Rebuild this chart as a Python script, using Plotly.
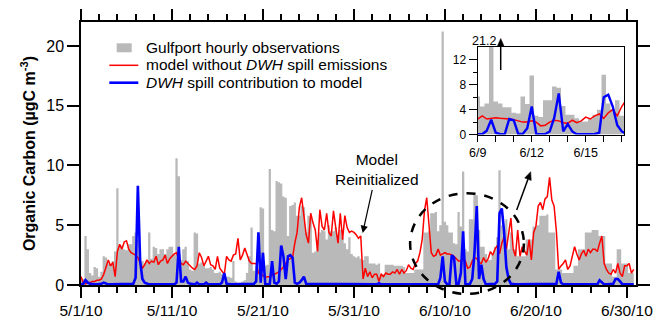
import pandas as pd
import plotly.graph_objects as go

# 6-hourly samples starting 2010-05-01 00:00 (61 days x 4)
start = "2010-05-01"
n_days = 61

obs = [  # Gulfport observations (ugC m-3), one row per day
    0.4, 0.5, 4.1, 3.0,
    1.0, 0.8, 1.5, 1.4,
    0.7, 1.1, 2.4, 2.3,
    1.8, 1.7, 2.0, 2.8,
    8.1, 3.2, 3.3, 3.0,
    2.9, 3.4, 3.4, 4.1,
    4.4, 3.8, 2.1, 2.0,
    1.8, 2.0, 4.4, 2.2,
    3.2, 3.1, 2.6, 3.0,
    3.0, 2.6, 3.0, 3.2,
    3.2, 2.5, 10.6, 9.1,
    2.1, 3.0, 3.2, 2.0,
    1.3, 1.2, 4.4, 4.3,
    1.8, 1.9, 1.6, 1.4,
    1.4, 1.5, 1.3, 1.0,
    1.0, 1.1, 0.9, 0.8,
    0.7, 0.7, 0.6, 2.0,
    0.3, 0.2, 0.2, 0.3,
    0.4, 1.0, 2.4, 4.8,
    1.2, 1.6, 1.5, 6.5,
    6.4, 1.6, 1.7, 9.7,
    4.6, 4.5, 8.7, 8.6,
    8.5, 7.4, 7.3, 4.1,
    6.6, 6.7, 6.9, 5.8,
    5.8, 6.6, 6.5, 4.4,
    5.8, 5.7, 2.7, 2.8,
    3.8, 4.4, 4.6, 4.5,
    3.8, 5.0, 4.5, 4.5,
    4.8, 4.2, 4.6, 4.0,
    3.5, 3.0, 4.0, 2.6,
    2.4, 2.3, 2.4, 2.2,
    2.1, 2.4, 2.4, 1.8,
    1.8, 1.8, 1.7, 1.8,
    0.9, 0.9, 1.7, 1.7,
    1.7, 1.7, 1.6, 1.6,
    1.6, 1.6, 1.5, 1.0,
    1.0, 1.0, 1.0, 1.3,
    1.3, 1.3, 1.3, 4.4,
    4.4, 4.5, 6.0, 6.0,
    6.1, 4.5, 5.0, 21.2,
    5.3, 5.0, 4.4, 4.4,
    3.5, 3.4, 6.1, 4.9,
    9.5, 3.0, 2.8, 5.5,
    5.5, 7.7, 7.5, 4.6,
    3.2, 3.2, 2.6, 2.1,
    2.1, 2.5, 3.2, 4.0,
    9.6, 5.0, 4.1, 5.5,
    3.0, 4.4, 3.0, 3.0,
    2.4, 2.4, 2.4, 2.4,
    3.8, 3.8, 3.8, 4.9,
    4.9, 5.0, 5.8, 5.8,
    5.8, 5.9, 4.4, 4.4,
    4.4, 1.3, 1.3, 1.3,
    1.0, 1.0, 1.0, 1.0,
    1.0, 1.6, 1.6, 3.0,
    3.0, 3.0, 4.4, 4.4,
    4.4, 4.6, 4.6, 4.6,
    4.1, 4.1, 4.1, 1.8,
    1.8, 1.8, 0.7, 0.7,
    3.0, 3.0, 1.8, 1.8,
    1.8, 1.0, 1.0, 1.0,
]

model_base = [  # model without DWH spill emissions
    0.7, 0.2, 0.1, 0.2,
    0.2, 0.3, 0.3, 0.4,
    0.4, 0.5, 0.9, 1.6,
    2.1, 1.6, 1.9, 0.7,
    2.8, 3.4, 3.0, 3.6,
    3.7, 3.0, 2.7, 2.6,
    2.5, 2.3, 1.8, 1.4,
    1.7, 2.1, 1.8, 2.0,
    1.9, 2.4, 1.7, 2.0,
    2.1, 2.5, 1.8, 2.2,
    2.4, 2.6, 2.7, 2.1,
    1.8, 1.7, 2.0, 1.8,
    1.6, 1.4, 1.3, 1.6,
    2.7, 2.3, 1.6, 2.0,
    2.4, 1.7, 1.6, 1.3,
    2.4, 1.4, 1.1, 0.9,
    2.4, 2.1, 2.0, 2.5,
    2.6, 3.9, 2.1, 2.5,
    3.1, 2.5, 2.0, 1.8,
    1.8, 1.8, 1.0, 0.9,
    0.8, 0.6, 0.7, 0.7,
    0.8, 0.9, 1.0, 1.1,
    1.3, 1.5, 1.8, 2.1,
    2.2, 2.3, 3.5, 4.4,
    6.5, 7.3, 5.8, 4.2,
    3.5, 6.0, 5.2, 4.6,
    2.8, 6.3, 4.9, 4.6,
    6.0, 4.4, 4.1, 6.2,
    4.8, 3.5, 6.0, 3.8,
    5.8, 4.8, 4.4, 4.5,
    4.4, 4.2, 3.9, 4.1,
    0.5, 1.4, 0.7, 1.1,
    0.6, 0.9, 0.9, 0.3,
    0.9, 0.7, 1.0, 0.9,
    0.9, 1.1, 1.0, 1.3,
    0.9, 1.3, 1.0, 1.2,
    1.7, 1.4, 1.3, 1.8,
    2.0, 2.7, 3.8, 6.2,
    7.3, 5.2, 2.7, 2.4,
    2.5, 3.0, 2.5, 2.6,
    2.7, 2.6, 2.6, 2.5,
    2.4, 2.2, 2.0, 2.0,
    2.2, 2.0, 1.4, 1.5,
    2.0, 2.3, 2.2, 1.9,
    1.8, 2.3, 1.9, 2.2,
    2.8, 2.5, 3.0, 3.3,
    2.6, 3.5, 4.0, 3.0,
    4.5, 5.6, 3.0, 2.4,
    4.6, 2.4, 3.2, 2.8,
    2.5, 3.8, 2.1, 4.4,
    4.9, 6.6, 6.9, 6.3,
    7.2, 7.4, 9.0, 7.1,
    6.6, 4.5, 1.3, 1.6,
    1.8, 2.1, 1.3, 1.6,
    2.4, 3.2, 2.6, 2.1,
    2.6, 2.9, 2.4, 3.0,
    2.7, 3.0, 3.0, 2.8,
    3.5, 4.1, 1.8, 1.3,
    1.0, 0.9, 1.3, 1.0,
    1.8, 1.0, 0.7, 1.6,
    1.6, 1.8, 1.0, 1.3,
]

dwh = [  # DWH spill contribution to model
    0.05, 0.1, 0.4, 0.2,
    0.1, 0.05, 0.05, 0.05,
    0.05, 0.1, 0.2, 0.1,
    0.05, 0.05, 0.05, 0.05,
    0.05, 0.05, 0.05, 0.05,
    0.05, 0.05, 0.05, 0.1,
    0.6, 8.3, 2.0, 0.5,
    0.2, 0.1, 0.05, 0.05,
    0.05, 0.05, 0.05, 0.05,
    0.05, 0.05, 0.05, 0.05,
    0.05, 0.05, 0.2, 3.2,
    0.3, 0.3, 0.7, 0.2,
    0.1, 0.1, 0.05, 0.2,
    0.05, 0.05, 0.05, 0.2,
    0.05, 0.05, 0.05, 0.05,
    0.05, 0.05, 0.2, 1.0,
    0.1, 0.05, 0.05, 0.05,
    0.05, 0.05, 0.05, 0.05,
    0.05, 0.05, 0.05, 0.05,
    0.1, 0.3, 4.4, 0.2,
    2.7, 0.1, 0.05, 0.1,
    2.0, 0.2, 0.1, 0.3,
    3.3, 2.4, 0.5, 2.4,
    2.5, 2.3, 0.2, 0.1,
    0.2, 0.4, 0.7, 0.1,
    0.1, 0.05, 0.05, 0.05,
    0.05, 0.05, 0.05, 0.05,
    0.05, 0.05, 0.05, 0.05,
    0.05, 0.05, 0.05, 0.05,
    0.05, 0.05, 0.05, 0.05,
    0.05, 0.05, 0.05, 0.05,
    0.05, 0.05, 0.05, 0.05,
    0.05, 0.05, 0.05, 0.15,
    0.05, 0.05, 0.05, 0.05,
    0.05, 0.1, 0.05, 0.05,
    0.05, 0.05, 0.05, 0.05,
    0.05, 0.05, 0.05, 0.05,
    0.05, 0.05, 0.05, 0.05,
    0.05, 0.05, 0.05, 0.05,
    0.05, 0.05, 0.6, 2.4,
    0.3, 0.05, 0.05, 2.5,
    2.3, 0.1, 0.1, 1.0,
    4.5, 0.1, 0.05, 0.1,
    0.5, 2.7, 6.6, 0.5,
    1.7, 0.5, 0.05, 0.05,
    0.05, 0.05, 0.1, 0.3,
    6.0, 6.4, 4.5, 1.5,
    0.5, 0.1, 0.05, 0.05,
    0.05, 0.05, 0.05, 0.05,
    0.05, 0.05, 0.05, 0.05,
    0.05, 0.05, 0.05, 0.05,
    0.05, 0.05, 0.05, 0.05,
    0.05, 0.1, 1.1, 0.2,
    0.05, 0.05, 0.05, 0.05,
    0.05, 0.05, 0.05, 0.05,
    0.05, 0.05, 0.05, 0.05,
    0.05, 0.05, 0.1, 0.05,
    0.4, 0.2, 0.05, 0.05,
    0.05, 0.05, 0.1, 0.5,
    0.5, 0.3, 0.05, 0.05,
    0.05, 0.05, 0.05, 0.05,
]

times = pd.date_range(start, periods=n_days * 4, freq="6h")

main_ticks = ["2010-05-01", "2010-05-11", "2010-05-21", "2010-05-31",
              "2010-06-10", "2010-06-20", "2010-06-30"]
main_ticktext = ["5/1/10", "5/11/10", "5/21/10", "5/31/10",
                 "6/10/10", "6/20/10", "6/30/10"]
inset_ticks = ["2010-06-09", "2010-06-12", "2010-06-15"]
inset_ticktext = ["6/9", "6/12", "6/15"]
legend_names = ["Gulfport hourly observations",
                "model without <i>DWH</i> spill emissions",
                "<i>DWH</i> spill contribution to model"]

GRAY = "#b9b9b9"
RED = "#ff0000"
BLUE = "#0000ff"
FONT = "Liberation Sans, Arial, sans-serif"

# plot-area geometry (pixels) used to place legend/arrows in paper units
L, R, T, B = 81, 19, 22, 33
W, H = 655 - L - R, 318 - T - B


def px2paper(px, py):
    return (px - L) / W, (318 - B - py) / H


fig = go.Figure()

for ax, red_w, blue_w in (("", 1.5, 2.6), ("2", 1.5, 2.4)):
    xa, ya = "x" + ax, "y" + ax
    fig.add_trace(go.Scatter(x=times, y=obs, mode="lines", line=dict(width=0, shape="hvh"),
                             fill="tozeroy", fillcolor=GRAY, name=legend_names[0],
                             xaxis=xa, yaxis=ya, hoverinfo="skip"))
    fig.add_trace(go.Scatter(x=times, y=model_base, mode="lines",
                             line=dict(color=RED, width=red_w), name=legend_names[1],
                             xaxis=xa, yaxis=ya))
    fig.add_trace(go.Scatter(x=times, y=dwh, mode="lines",
                             line=dict(color=BLUE, width=blue_w), name=legend_names[2],
                             xaxis=xa, yaxis=ya))

TICKF = 15.5
fig.update_layout(
    width=655, height=318,
    margin=dict(l=L, r=R, t=T, b=B, autoexpand=False),
    paper_bgcolor="white", plot_bgcolor="white",
    font=dict(family=FONT, size=TICKF, color="black"),
    showlegend=False,
    xaxis=dict(domain=[0, 1], type="date", automargin=False,
               range=["2010-05-01", "2010-07-01"],
               tickvals=main_ticks, ticktext=main_ticktext,
               ticks="outside", ticklen=11, tickwidth=1.5, tickcolor="black",
               minor=dict(dtick=2 * 86400000, tick0="2010-05-01", ticks="outside",
                          ticklen=6, tickwidth=1.5, tickcolor="black", showgrid=False),
               showline=True, linewidth=1.5, linecolor="black", mirror="allticks",
               showgrid=False, zeroline=False, tickfont=dict(size=TICKF)),
    yaxis=dict(domain=[0, 1], range=[0, 22], tickvals=[0, 5, 10, 15, 20],
               automargin=False,
               ticks="outside", ticklen=12, tickwidth=1.5, tickcolor="black",
               showline=True, linewidth=1.5, linecolor="black", mirror="allticks",
               showgrid=False, zeroline=False, tickfont=dict(size=16),
               title=dict(text="<b>Organic Carbon (µgC m<sup>-3</sup>)</b>",
                          font=dict(size=16), standoff=7)),
    xaxis2=dict(domain=[0.7148, 0.9784], anchor="y2", type="date", automargin=False,
                range=["2010-06-09 00:00", "2010-06-17 03:00"],
                tickvals=inset_ticks, ticktext=inset_ticktext,
                ticks="outside", ticklen=6, tickwidth=1.2, tickcolor="black",
                minor=dict(dtick=86400000, tick0="2010-06-09", ticks="outside",
                           ticklen=6, tickwidth=1.2, tickcolor="black", showgrid=False),
                showline=True, linewidth=1.2, linecolor="black", mirror=True,
                showgrid=False, zeroline=False, tickfont=dict(size=12.5)),
    yaxis2=dict(domain=[0.572, 0.906], anchor="x2", range=[0, 14.1], automargin=False,
                tickvals=[0, 4, 8, 12],
                ticks="outside", ticklen=8, tickwidth=1.2, tickcolor="black",
                minor=dict(tickvals=[2, 6, 10], ticks="outside", ticklen=4,
                           tickwidth=1.2, tickcolor="black", showgrid=False),
                showline=True, linewidth=1.2, linecolor="black", mirror=True,
                showgrid=False, zeroline=False, tickfont=dict(size=12)),
)

# ---- legend (drawn by hand to match the compact spacing) ----
g0, g1 = px2paper(116.7, 43.3), px2paper(131.7, 52.3)
fig.add_shape(type="rect", xref="paper", yref="paper", x0=g0[0], y0=g0[1],
              x1=g1[0], y1=g1[1], fillcolor=GRAY, line=dict(width=0))
for py, col, w in ((65.3, RED, 1.5), (82.7, BLUE, 2.6)):
    a, b = px2paper(109.3, py), px2paper(138.3, py)
    fig.add_shape(type="line", xref="paper", yref="paper", x0=a[0], y0=a[1],
                  x1=b[0], y1=b[1], line=dict(color=col, width=w))
for name, py in zip(legend_names, (47.3, 65.0, 82.7)):
    p = px2paper(144.0, py)
    fig.add_annotation(xref="paper", yref="paper", x=p[0], y=p[1], text=name,
                       xanchor="left", yanchor="middle", showarrow=False,
                       font=dict(size=15.5))

# dashed circle marking the zoomed period
fig.add_shape(type="circle", xref="paper", yref="paper",
              x0=0.593, x1=0.798, y0=-0.034, y1=0.349,
              line=dict(color="black", width=2.5, dash="dash"))


def arrow(tail, tip, width=1.5, head_len=8.0, head_half=3.5):
    (x0, y0), (x1, y1) = tail, tip
    dx, dy = x1 - x0, y1 - y0
    d = (dx * dx + dy * dy) ** 0.5
    ux, uy = dx / d, dy / d
    bx, by = x1 - head_len * ux, y1 - head_len * uy
    px_, py_ = -uy, ux
    a = px2paper(x0, y0)
    b = px2paper(bx, by)
    fig.add_shape(type="line", xref="paper", yref="paper",
                  x0=a[0], y0=a[1], x1=b[0], y1=b[1],
                  line=dict(color="black", width=width))
    t = px2paper(x1, y1)
    c1 = px2paper(bx + head_half * px_, by + head_half * py_)
    c2 = px2paper(bx - head_half * px_, by - head_half * py_)
    fig.add_shape(type="path", xref="paper", yref="paper",
                  path=f"M {t[0]} {t[1]} L {c1[0]} {c1[1]} L {c2[0]} {c2[1]} Z",
                  fillcolor="black", line=dict(color="black", width=0.5))


# arrow from circle to inset
arrow((516.7, 210.0), (530.7, 171.7))
# arrow to the off-scale observation label in the inset
arrow((500.7, 70.0), (500.7, 38.5))

# Model Reinitialized
fig.add_annotation(x="2010-05-31 23:00", y=4.36, xref="x", yref="y",
                   text="Model<br>Reinitialized", showarrow=True, ax=14, ay=-63,
                   arrowhead=2, arrowsize=1.2, arrowwidth=1.2, arrowcolor="black",
                   font=dict(size=15.5), standoff=0)

p21 = px2paper(498, 31.5)
fig.add_annotation(xref="paper", yref="paper", x=p21[0], y=p21[1], text="21.2",
                   showarrow=False, font=dict(size=12.5))

fig.write_html("out.html", config={"displayModeBar": False},
               post_script="document.body.style.margin='0';"
                           "document.body.style.overflow='hidden';")
